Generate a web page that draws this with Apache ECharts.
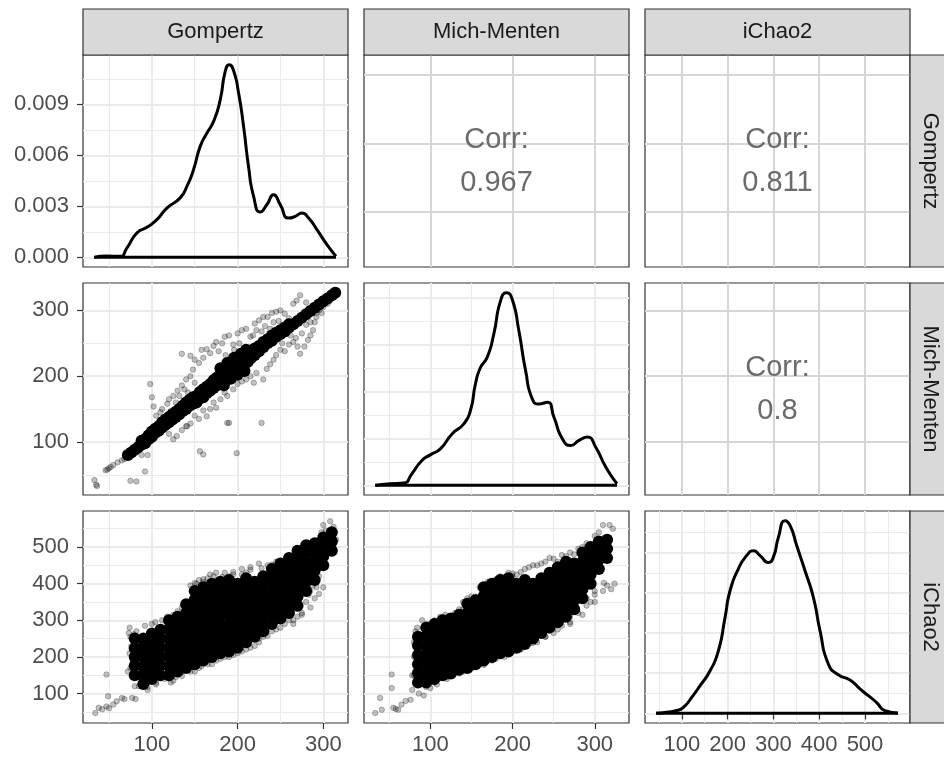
<!DOCTYPE html>
<html>
<head>
<meta charset="utf-8">
<title>Pairs plot</title>
<script src="https://cdn.jsdelivr.net/npm/echarts@6/dist/echarts.min.js"></script>
<style>
  html, body { margin: 0; padding: 0; background: #fff; }
  #chart { width: 944px; height: 759px; }
</style>
</head>
<body>
<div id="chart"></div>
<script>
// variable names (strips)
var varNames = ['Gompertz', 'Mich-Menten', 'iChao2'];
// correlations shown in the upper panels
var corrGompMich = '0.967';
var corrGompChao = '0.811';
var corrMichChao = '0.8';

// data ranges of each variable
var gompRange = [33.7, 314.8];
var michRange = [34, 327];
var chaoRange = [46, 572];

// tick labels
var gompTicks = [100, 200, 300];
var michTicks = [100, 200, 300];
var chaoTicks = [100, 200, 300, 400, 500];
var gompMinor = [50, 150, 250];
var michMinor = [50, 150, 250];
var chaoMinor = [50, 150, 250, 350, 450, 550];
var densGompTicks = [0, 0.003, 0.006, 0.009];
var densGompMinor = [0.0015, 0.0045, 0.0075, 0.0105];
var densMichTicks = [0, 0.0025, 0.005, 0.0075, 0.01];
var densMichMinor = [0.00125, 0.00375, 0.00625, 0.00875];
var densChaoTicks = [0, 0.001, 0.002, 0.003, 0.004];
var densChaoMinor = [0.0005, 0.0015, 0.0025, 0.0035, 0.0045];

// density curves (x, density)
var gompDensity = [[32.7,0],[47.5,0.00008],[63,0.00006],[70.8,0.00055],[82.5,0.00143],[94.2,0.00177],[105.8,0.00222],[117.5,0.0029],[133,0.0035],[140.9,0.00418],[148.6,0.00516],[156.4,0.00653],[164.2,0.00731],[172,0.008],[179.8,0.00928],[185.6,0.01094],[190.3,0.01134],[195.3,0.0110],[201.2,0.00967],[207,0.00771],[212.8,0.00535],[218.7,0.00359],[226.5,0.00267],[234.2,0.0031],[242,0.00369],[249.8,0.0031],[259.5,0.00231],[267.3,0.00241],[275.1,0.00261],[282.9,0.00231],[292.6,0.00163],[304.3,0.00075],[314.8,0.00006]];
var michDensity = [[32.9,0],[51.2,0.00009],[67.5,0.00012],[77.6,0.00062],[89.8,0.00133],[100,0.00163],[112.2,0.00195],[126.4,0.00275],[140.7,0.00329],[148.8,0.004],[154.9,0.00542],[161,0.0063],[169.1,0.00684],[177.2,0.00808],[185.4,0.00986],[192.7,0.0103],[199.6,0.00995],[207.7,0.00826],[215.9,0.00613],[224,0.00462],[232.1,0.00435],[242.3,0.00444],[250.4,0.00364],[260.6,0.00249],[270.7,0.00213],[280.9,0.0024],[291.1,0.00258],[301.2,0.00204],[313.4,0.00098],[327,0.00009]];
var chaoDensity = [[44,0],[67.3,0.00003],[89.1,0.00007],[103.6,0.00015],[121.8,0.0004],[140,0.00069],[161.8,0.00106],[180,0.00156],[194.5,0.00239],[205.5,0.00306],[223.6,0.0036],[241.8,0.00393],[256.4,0.00405],[270.9,0.00393],[289.1,0.00376],[300,0.00389],[310.9,0.00438],[325.5,0.0048],[336.4,0.00468],[350.9,0.00418],[369.1,0.00355],[387.3,0.00289],[401.8,0.00206],[420,0.00123],[441.8,0.00096],[467.3,0.00083],[489.1,0.00061],[507.3,0.00044],[525.5,0.00027],[543.6,0.00007],[572,0.00001]];

// scatter: Gompertz (x) vs Mich-Menten (y)
var gompMichCore = [[72,80],[76,84],[80,88],[84,92],[88,96],[88,102],[92,98],[92,104],[96,104],[96,110],[100,108],[100,116],[104,114],[104,120],[108,117],[108,124],[112,122],[112,130],[116,126],[116,134],[120,130],[120,138],[124,134],[124,142],[128,138],[128,146],[132,142],[132,150],[136,147],[136,155],[140,150],[140,160],[144,155],[144,164],[148,158],[148,168],[152,160],[152,170],[156,166],[156,176],[160,168],[160,180],[164,174],[164,184],[168,178],[168,188],[172,182],[172,194],[176,186],[176,198],[180,190],[180,202],[180,212],[184,186],[184,194],[184,206],[188,198],[188,210],[188,220],[192,196],[192,202],[192,214],[196,206],[196,218],[196,228],[200,202],[200,210],[200,222],[204,214],[204,226],[204,234],[208,208],[208,218],[208,230],[210,240],[212,222],[212,234],[216,228],[216,238],[220,232],[220,242],[225,238],[225,246],[230,244],[230,252],[235,250],[235,256],[240,254],[240,262],[245,260],[245,266],[250,264],[250,270],[255,268],[255,274],[260,274],[260,279],[265,279],[270,284],[275,289],[280,294],[285,299],[290,304],[295,309],[300,314],[305,318],[310,323],[314,327]];
var gompMichSpread = [[33,42],[35,35],[36,33],[46,57],[48,58],[50,60],[52,62],[55,65],[60,69],[65,72],[68,74],[75,41],[82,40],[92,55],[95,80],[88,80],[70,78],[78,84],
  [98,188],[100,168],[102,154],[105,140],[108,130],[110,145],[112,150],[115,138],[118,158],[120,165],[122,147],[125,170],[128,160],[130,178],[132,170],[135,186],[138,180],[140,195],[142,175],[145,200],[148,210],[150,190],[135,234],[145,231],[150,225],[155,220],[158,240],[160,228],[164,241],[168,235],[172,246],[175,252],[178,238],[182,250],[185,260],[190,262],[195,248],[200,265],[205,270],[210,272],[215,260],[220,280],[225,285],[230,290],[235,290],[240,296],[245,298],[250,300],[255,295],[265,310],[269,315],[273,323],[280,312],[260,288],[228,268],[218,262],[242,282],[222,270],[232,276],[238,272],[248,284],[196,240],[202,250],[186,232],
  [120,112],[125,104],[129,109],[135,118],[140,124],[145,128],[141,124],[150,140],[155,135],[156,86],[160,81],[160,148],[164,139],[168,150],[172,160],[175,152],[180,165],[185,175],[188,170],[190,129],[188,129],[195,180],[199,83],[200,188],[205,192],[210,195],[215,200],[219,190],[222,205],[228,129],[230,195],[234,211],[238,218],[242,225],[245,232],[250,240],[255,238],[260,248],[265,252],[270,245],[273,234],[278,245],[282,255],[285,262],[288,270],[285,282],[290,282],[292,290],[295,300],[298,296],[300,305],[305,310],[275,265],[268,258],[252,250],[262,262],[280,278],[292,296]];

// scatter: Gompertz (x) vs iChao2 (y)
var gompChaoCore = [[80,150],[80,176],[80,200],[80,224],[80,250],[90,126],[90,150],[90,175],[90,201],[90,226],[90,250],[100,140],[100,165],[100,191],[100,214],[100,240],[100,264],[110,150],[110,176],[110,200],[110,225],[110,250],[110,274],[120,150],[120,175],[120,201],[120,225],[120,250],[120,276],[120,300],[130,160],[130,186],[130,210],[130,236],[130,260],[130,284],[130,310],
  [140,170],[140,195],[140,221],[140,245],[140,270],[140,296],[140,320],[140,344],[150,180],[150,205],[150,230],[150,256],[150,280],[150,305],[150,330],[150,356],[150,380],[160,190],[160,215],[160,241],[160,265],[160,290],[160,316],[160,340],[160,365],[160,390],[170,200],[170,225],[170,250],[170,276],[170,300],[170,325],[170,351],[170,375],[170,400],
  [180,210],[180,235],[180,260],[180,285],[180,311],[180,335],[180,360],[180,386],[180,405],[190,215],[190,240],[190,266],[190,290],[190,315],[190,340],[190,366],[190,390],[190,410],[200,225],[200,250],[200,275],[200,301],[200,325],[200,350],[200,376],[200,400],[210,240],[210,265],[210,290],[210,315],[210,341],[210,365],[210,390],[210,415],
  [220,255],[220,280],[220,305],[220,330],[220,356],[220,380],[220,405],[230,270],[230,295],[230,320],[230,346],[230,370],[230,395],[230,420],[240,290],[240,315],[240,340],[240,365],[240,391],[240,415],[240,440],[250,305],[250,330],[250,356],[250,380],[250,405],[250,430],[250,455],[260,320],[260,345],[260,370],[260,396],[260,420],[260,445],[260,470],
  [270,340],[270,365],[270,390],[270,415],[270,440],[270,466],[270,490],[280,380],[280,405],[280,430],[280,455],[280,481],[280,505],[290,410],[290,436],[290,460],[290,485],[290,510],[300,450],[300,475],[300,500],[300,526],[310,490],[310,515],[310,540]];
var gompChaoSpread = [[34,47],[38,61],[42,57],[47,65],[49,93],[50,60],[47,152],[55,70],[59,79],[65,88],[68,85],[72,160],[73,265],[74,280],[75,255],[77,88],[78,190],[80,120],[81,85],[82,270],[85,230],[86,160],[90,150],[92,285],[95,110],[96,260],[98,140],[100,290],[104,295],[110,270],[112,300],[118,310],[122,130],[125,315],[128,145],[130,325],[135,160],[138,300],[142,350],[145,330],[150,160],[152,400],[155,410],[158,175],[160,405],[165,415],[170,180],[172,420],[178,410],[180,195],[185,430],[190,200],[195,425],[200,210],[205,440],[210,220],[215,445],[220,230],[225,455],[230,255],[235,450],[240,270],[245,460],[250,280],[255,450],[260,300],[262,470],[265,290],[270,310],[272,480],[275,320],[280,350],[283,370],[285,380],[288,395],[290,360],[292,390],[295,420],[298,540],[300,560],[303,545],[305,530],[308,570],[312,555],[315,520],[285,500],[278,460],[268,440],[165,200],[185,215],[205,232],[225,250],[245,300],[115,140],[105,130],[135,335],[128,250],[210,430],[190,420],
  [145,395],[150,402],[160,412],[168,425],[175,430],[182,418],[195,432],[205,425],[215,438],[228,442],[240,452],[250,462],[258,470],[268,478],[278,492],[288,505],[295,520],
  [125,135],[135,148],[145,160],[155,170],[165,180],[175,190],[185,200],[195,205],[205,215],[215,225],[225,240],[235,258],[245,275],[255,290],[265,300],[275,315],[285,335],[295,372],[300,390],
  [75,170],[76,230],[78,250],[79,262],[74,210],[85,120],[95,118],[105,125]];

// scatter: Mich-Menten (x) vs iChao2 (y)
var michChaoCore = [[85,130],[85,156],[85,180],[85,205],[85,231],[85,255],[95,130],[95,155],[95,181],[95,205],[95,230],[95,256],[95,280],[105,140],[105,165],[105,191],[105,215],[105,240],[105,266],[105,290],[115,150],[115,175],[115,200],[115,226],[115,250],[115,275],[115,300],[125,155],[125,181],[125,205],[125,230],[125,256],[125,280],[125,305],[135,165],[135,190],[135,215],[135,241],[135,265],[135,290],[135,315],
  [145,170],[145,195],[145,221],[145,245],[145,270],[145,296],[145,320],[145,345],[155,180],[155,205],[155,230],[155,256],[155,280],[155,305],[155,331],[155,355],[165,190],[165,215],[165,240],[165,265],[165,291],[165,315],[165,340],[165,366],[165,390],[175,200],[175,225],[175,250],[175,275],[175,301],[175,325],[175,350],[175,376],[175,400],
  [185,210],[185,235],[185,260],[185,285],[185,310],[185,336],[185,360],[185,385],[185,410],[195,215],[195,240],[195,265],[195,290],[195,315],[195,341],[195,365],[195,390],[195,415],[205,225],[205,250],[205,275],[205,300],[205,325],[205,350],[205,376],[205,400],[215,235],[215,260],[215,285],[215,310],[215,335],[215,360],[215,385],[215,410],
  [225,250],[225,275],[225,300],[225,325],[225,350],[225,375],[225,400],[235,265],[235,290],[235,315],[235,340],[235,365],[235,390],[235,415],[245,280],[245,305],[245,330],[245,355],[245,380],[245,405],[245,430],[255,295],[255,320],[255,345],[255,370],[255,395],[255,420],[255,445],[265,310],[265,335],[265,360],[265,385],[265,410],[265,435],[265,460],
  [275,330],[275,355],[275,380],[275,405],[275,430],[275,455],[285,360],[285,385],[285,410],[285,435],[285,460],[285,485],[295,400],[295,425],[295,450],[295,475],[295,500],[305,440],[305,465],[305,490],[305,515],[315,470],[315,495],[315,520]];
var michChaoSpread = [[33,47],[41,56],[39,88],[53,115],[53,152],[55,61],[58,58],[61,56],[65,70],[70,80],[76,83],[78,110],[80,150],[82,270],[84,280],[86,100],[88,125],[90,300],[92,95],[96,290],[100,115],[105,300],[108,125],[112,310],[118,315],[120,140],[125,150],[130,320],[135,330],[140,160],[145,360],[150,170],[155,365],[160,180],[163,395],[170,400],[175,190],[180,410],[185,420],[190,200],[195,430],[200,215],[205,425],[210,220],[215,440],[220,235],[225,450],[230,240],[235,455],[240,255],[245,470],[250,265],[255,460],[260,285],[265,475],[270,295],[275,480],[280,320],[285,500],[290,340],[295,350],[300,370],[305,540],[310,560],[311,402],[315,395],[318,560],[320,385],[324,400],[322,550],[312,520],[110,140],[140,330],[150,340],[200,420],[260,300],[270,310],[290,360],[300,380],[230,260],[170,195],
  [140,350],[150,365],[160,390],[170,405],[180,412],[190,418],[200,428],[210,432],[220,445],[230,450],[240,460],[250,468],[260,478],[270,485],[280,495],[290,510],[300,530],
  [95,118],[105,130],[120,145],[135,155],[150,168],[165,178],[180,195],[195,210],[210,222],[225,238],[240,255],[255,275],[270,290],[285,315],[300,350],[310,380],
  [78,150],[80,200],[80,240],[82,260]];

// ---------------------------------------------------------------
function expand(r) { var d = (r[1] - r[0]) * 0.05; return [r[0] - d, r[1] + d]; }
function fmtInt(v) { return String(v); }
function fmtDens(v) { return v.toFixed(3); }
function maxOf(arr) { return Math.max.apply(null, arr.map(function (d) { return d[1]; })); }

var scaleGomp = { range: expand(gompRange), major: gompTicks, minor: gompMinor, fmt: fmtInt };
var scaleMich = { range: expand(michRange), major: michTicks, minor: michMinor, fmt: fmtInt };
var scaleChao = { range: expand(chaoRange), major: chaoTicks, minor: chaoMinor, fmt: fmtInt };
var scaleDensGomp = { range: expand([0, maxOf(gompDensity)]), major: densGompTicks, minor: densGompMinor, fmt: fmtDens };
var scaleDensMich = { range: expand([0, maxOf(michDensity)]), major: densMichTicks, minor: densMichMinor, fmt: fmtDens };
var scaleDensChao = { range: expand([0, maxOf(chaoDensity)]), major: densChaoTicks, minor: densChaoMinor, fmt: fmtDens };

var colLeft = [83, 364, 645], rowTop = [55, 283, 511];
var panelW = 265, panelH = 212;
var FONT = 'Liberation Sans, Arial, Helvetica, sans-serif';

var grids = [], xAxes = [], yAxes = [], series = [], graphics = [];

function majorAxis(p, pos, s, labels, color) {
  return {
    type: 'value', gridIndex: p, position: pos, min: s.range[0], max: s.range[1],
    axisLine: { show: false },
    axisTick: { show: labels, length: 6, lineStyle: { color: '#333', width: 1.2 }, customValues: s.major },
    axisLabel: { show: labels, customValues: s.major, formatter: s.fmt, fontSize: 22, color: '#4D4D4D',
                 fontFamily: FONT, margin: pos === 'left' ? 14 : 11 },
    splitLine: { show: true, lineStyle: { color: color, width: 2 } }
  };
}
function minorAxis(p, pos, s, show) {
  return {
    type: 'value', gridIndex: p, position: pos, min: s.range[0], max: s.range[1],
    axisLine: { show: false },
    axisTick: { show: false, customValues: s.minor },
    axisLabel: { show: false, customValues: s.minor },
    splitLine: { show: show, lineStyle: { color: '#EBEBEB', width: 1 } }
  };
}
function addPanel(r, c, xs, ys, kind) {
  var p = grids.length;
  var corr = kind === 'corr';
  grids.push({ left: colLeft[c], top: rowTop[r], width: panelW, height: panelH, show: true,
               backgroundColor: '#fff', borderColor: '#333', borderWidth: 1.2, outerBoundsMode: 'none' });
  var col = corr ? '#D6D6D6' : '#EBEBEB';
  xAxes.push(majorAxis(p, 'bottom', xs, r === 2, col));
  xAxes.push(minorAxis(p, 'top', xs, !corr));
  yAxes.push(majorAxis(p, 'left', ys, c === 0, col));
  yAxes.push(minorAxis(p, 'right', ys, !corr));
  return p;
}
function addDensity(p, dens) {
  series.push({ type: 'line', xAxisIndex: 2 * p, yAxisIndex: 2 * p, data: dens, showSymbol: false,
                smooth: 0.6, lineStyle: { color: '#000', width: 3 }, silent: true });
  series.push({ type: 'line', xAxisIndex: 2 * p, yAxisIndex: 2 * p, showSymbol: false, silent: true,
                data: [[dens[0][0], 0], [dens[dens.length - 1][0], 0]], lineStyle: { color: '#000', width: 3 } });
}
function addScatter(p, core, spread) {
  series.push({ type: 'scatter', xAxisIndex: 2 * p, yAxisIndex: 2 * p, data: core, symbolSize: 12, silent: true,
                itemStyle: { color: '#000', opacity: 1 } });
  series.push({ type: 'scatter', xAxisIndex: 2 * p, yAxisIndex: 2 * p, data: spread, symbolSize: 5.5, silent: true,
                itemStyle: { color: 'rgba(0,0,0,0.3)', borderColor: 'rgba(0,0,0,0.35)', borderWidth: 0.9 } });
}
function addCorr(r, c, value) {
  var cx = colLeft[c] + panelW / 2, cy = rowTop[r] + panelH / 2;
  graphics.push({ type: 'text', x: cx, y: cy - 21, z: 50,
    style: { text: 'Corr:', fontSize: 29, fontFamily: FONT, fill: '#6B6B6B', align: 'center', verticalAlign: 'middle' } });
  graphics.push({ type: 'text', x: cx, y: cy + 22, z: 50,
    style: { text: value, fontSize: 29, fontFamily: FONT, fill: '#6B6B6B', align: 'center', verticalAlign: 'middle' } });
}

// row 1
var p;
p = addPanel(0, 0, scaleGomp, scaleDensGomp, 'diag'); addDensity(p, gompDensity);
addPanel(0, 1, scaleMich, scaleGomp, 'corr'); addCorr(0, 1, corrGompMich);
addPanel(0, 2, scaleChao, scaleGomp, 'corr'); addCorr(0, 2, corrGompChao);
// row 2
p = addPanel(1, 0, scaleGomp, scaleMich, 'scatter'); addScatter(p, gompMichCore, gompMichSpread);
p = addPanel(1, 1, scaleMich, scaleDensMich, 'diag'); addDensity(p, michDensity);
addPanel(1, 2, scaleChao, scaleMich, 'corr'); addCorr(1, 2, corrMichChao);
// row 3
p = addPanel(2, 0, scaleGomp, scaleChao, 'scatter'); addScatter(p, gompChaoCore, gompChaoSpread);
p = addPanel(2, 1, scaleMich, scaleChao, 'scatter'); addScatter(p, michChaoCore, michChaoSpread);
p = addPanel(2, 2, scaleChao, scaleDensChao, 'diag'); addDensity(p, chaoDensity);

// strips
varNames.forEach(function (name, i) {
  graphics.push({ type: 'rect', shape: { x: colLeft[i], y: 9, width: panelW, height: 46 }, z: 10,
    style: { fill: '#D9D9D9', stroke: '#333', lineWidth: 1.2 } });
  graphics.push({ type: 'text', x: colLeft[i] + panelW / 2, y: 32, z: 11,
    style: { text: name, fontSize: 22, fontFamily: FONT, fill: '#1A1A1A', align: 'center', verticalAlign: 'middle' } });
  graphics.push({ type: 'rect', shape: { x: 910, y: rowTop[i], width: 46, height: panelH }, z: 10,
    style: { fill: '#D9D9D9', stroke: '#333', lineWidth: 1.2 } });
  graphics.push({ type: 'text', x: 930, y: rowTop[i] + panelH / 2, rotation: -Math.PI / 2, z: 11,
    style: { text: name, fontSize: 22, fontFamily: FONT, fill: '#1A1A1A', align: 'center', verticalAlign: 'middle' } });
});

var chart = echarts.init(document.getElementById('chart'));
chart.setOption({
  animation: false,
  backgroundColor: '#fff',
  grid: grids,
  xAxis: xAxes,
  yAxis: yAxes,
  series: series,
  graphic: graphics
});
</script>
</body>
</html>
